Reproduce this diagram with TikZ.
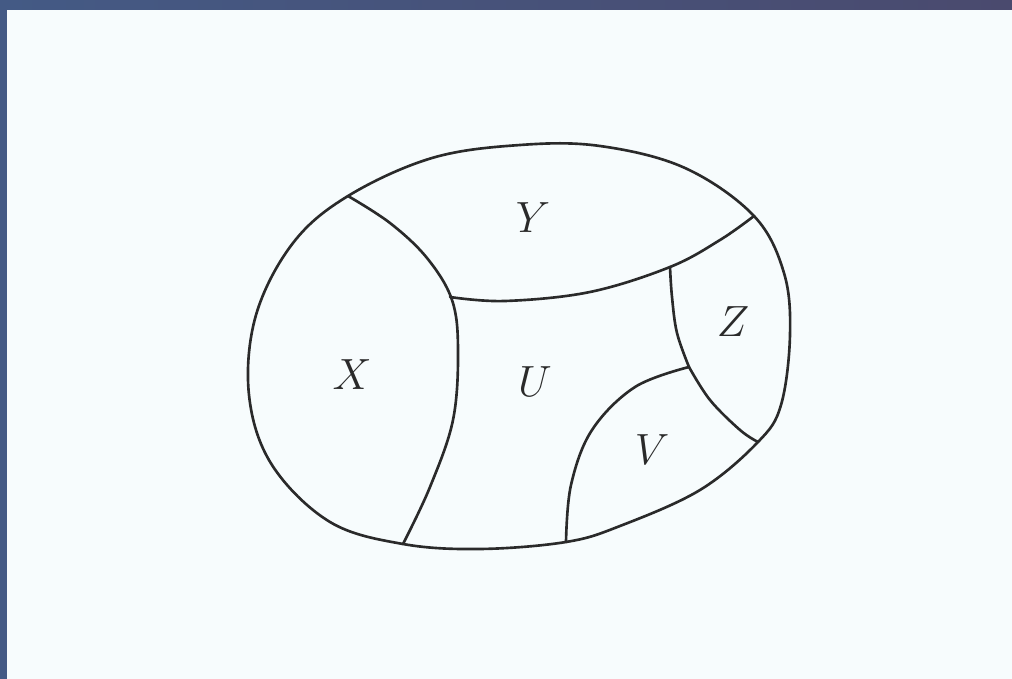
\documentclass[tikz,border=0pt]{standalone}
\usepackage{tikz}
\definecolor{bgc}{HTML}{F7FCFD}
\definecolor{frameL}{HTML}{445A85}
\definecolor{frameR}{HTML}{4A4A6E}
\definecolor{ink}{HTML}{2A2A2A}
\tikzset{
  region/.style={draw=ink, line width=1.5pt, line join=round, line cap=round},
  lbl/.style={font=\fontsize{25}{30}\selectfont, text=ink, inner sep=0pt}
}
\begin{document}
\begin{tikzpicture}[x=0.02cm,y=-0.02cm]
\useasboundingbox (0,0) rectangle (1012,679);
\fill[bgc] (0,0) rectangle (1012,679);
\shade[left color=frameL, right color=frameR] (0,0) rectangle (1012,10);
\fill[frameL] (0,0) rectangle (7,679);
% junctions
\coordinate (A) at (348,196);
\coordinate (B) at (754,216);
\coordinate (C) at (758,442);
\coordinate (D) at (566,542);
\coordinate (E) at (403,544);
\coordinate (F) at (450,297);
\coordinate (H) at (670,267);
\coordinate (G) at (689,367);
% outer boundary
\draw[region] plot[smooth cycle, tension=0.6] coordinates {
 (A) (432,158) (520,145) (600,146) (685,168) (B) (784,273) (790,335) (781,405) (C)
 (700,490) (620,526) (D) (480,549) (E) (330,522) (272,465) (249,395) (256,315) (293,243)};
% X / U boundary
\draw[region] plot[smooth, tension=0.6] coordinates {(A) (390,223) (427,258) (452,300) (458,350) (453,420) (430,487) (E)};
% Y / U boundary
\draw[region] plot[smooth, tension=0.6] coordinates {(F) (505,301) (590,292) (H) (720,240) (B)};
% Z / U boundary
\draw[region] plot[smooth, tension=0.6] coordinates {(H) (672,297) (677,333) (G)};
% Z / V boundary
\draw[region] plot[smooth, tension=0.6] coordinates {(G) (710,400) (740,430) (C)};
% V / U boundary
\draw[region] plot[smooth, tension=0.6] coordinates {(G) (635,387) (592,430) (571,485) (D)};
% labels
\node[lbl] (Y) at (533,218) {$Y$};
\node[lbl] (X) at (352,375) {$X$};
\node[lbl] (U) at (535,382) {$U$};
\node[lbl] (Z) at (733,322) {$Z$};
\node[lbl] (V) at (652,450) {$V$};
\end{tikzpicture}
\end{document}
